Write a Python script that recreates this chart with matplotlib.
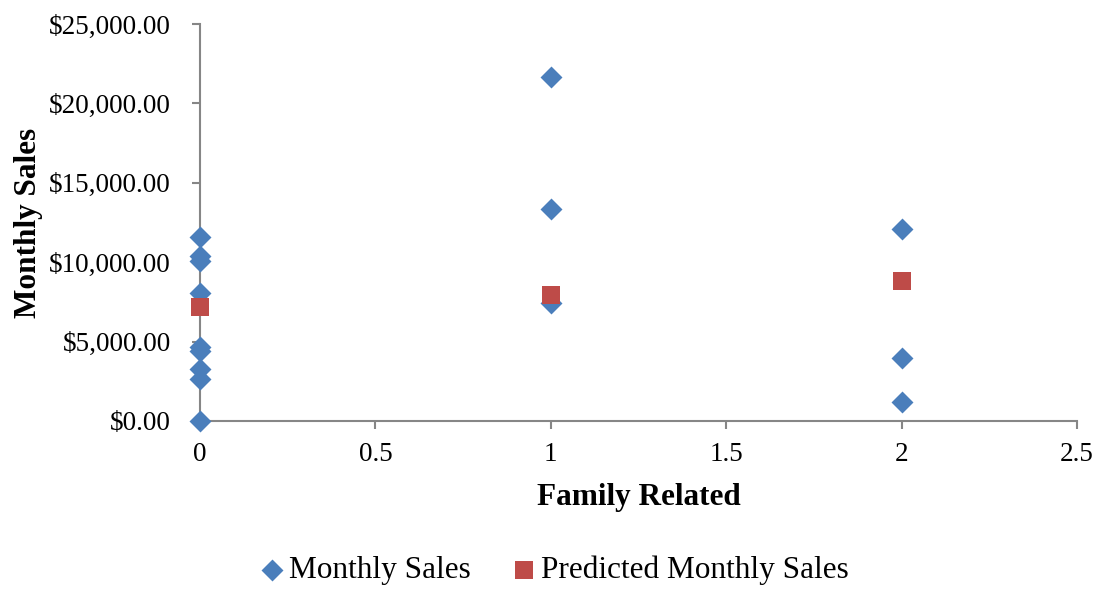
import matplotlib
matplotlib.use("Agg")
import matplotlib.pyplot as plt
from matplotlib.ticker import FuncFormatter, MultipleLocator

plt.rcParams['font.family'] = ['Liberation Serif', 'DejaVu Serif']

family_x = [0, 0, 0, 0, 0, 0, 0, 0, 0, 1, 1, 1, 2, 2, 2]
sales_y = [11600, 10400, 10100, 8050, 4650, 4400, 3250, 2650, 0,
           21650, 13320, 7400, 12100, 3960, 1220]
pred_x = [0, 1, 2]
pred_y = [7150, 7955, 8795]

blue = '#4A7EBB'
red = '#BE4B48'
gray = '#868686'

fig = plt.figure(figsize=(11.05, 5.9), dpi=100)
ax = fig.add_axes([200/1105, 1 - 421/590, (1077-200)/1105, (421-24)/590])

ax.scatter(family_x, sales_y, marker='D', s=125, color=blue, zorder=3,
           label='Monthly Sales', linewidths=0, clip_on=False)
ax.scatter(pred_x, pred_y, marker='s', s=185, color=red, zorder=4,
           label='Predicted Monthly Sales', linewidths=0, clip_on=False)

ax.set_xlim(0, 2.5)
ax.set_ylim(0, 25000)
ax.xaxis.set_major_locator(MultipleLocator(0.5))
ax.yaxis.set_major_locator(MultipleLocator(5000))
ax.xaxis.set_major_formatter(FuncFormatter(lambda v, p: f"{v:g}"))
ax.yaxis.set_major_formatter(FuncFormatter(lambda v, p: f"${v:,.2f}"))

for s in ['top', 'right']:
    ax.spines[s].set_visible(False)
for s in ['left', 'bottom']:
    ax.spines[s].set_color(gray)
    ax.spines[s].set_linewidth(1.5)
ax.tick_params(axis='both', colors=gray, length=6, width=1.5, labelsize=19.5,
               labelcolor='black')
ax.tick_params(axis='x', pad=9)
ax.tick_params(axis='y', pad=15)

ax.set_xlabel('Family Related', fontsize=22.5, fontweight='bold', labelpad=12)
ax.set_ylabel('Monthly Sales', fontsize=22.5, fontweight='bold', labelpad=4)

leg = fig.legend(loc='center', bbox_to_anchor=(0.5, 1 - 570/590), ncol=2,
                 frameon=False, fontsize=22.5, handletextpad=0.05,
                 columnspacing=1.2, markerscale=1.0, handlelength=1.0,
                 borderpad=0.0)

fig.savefig('out.png', dpi=100)
